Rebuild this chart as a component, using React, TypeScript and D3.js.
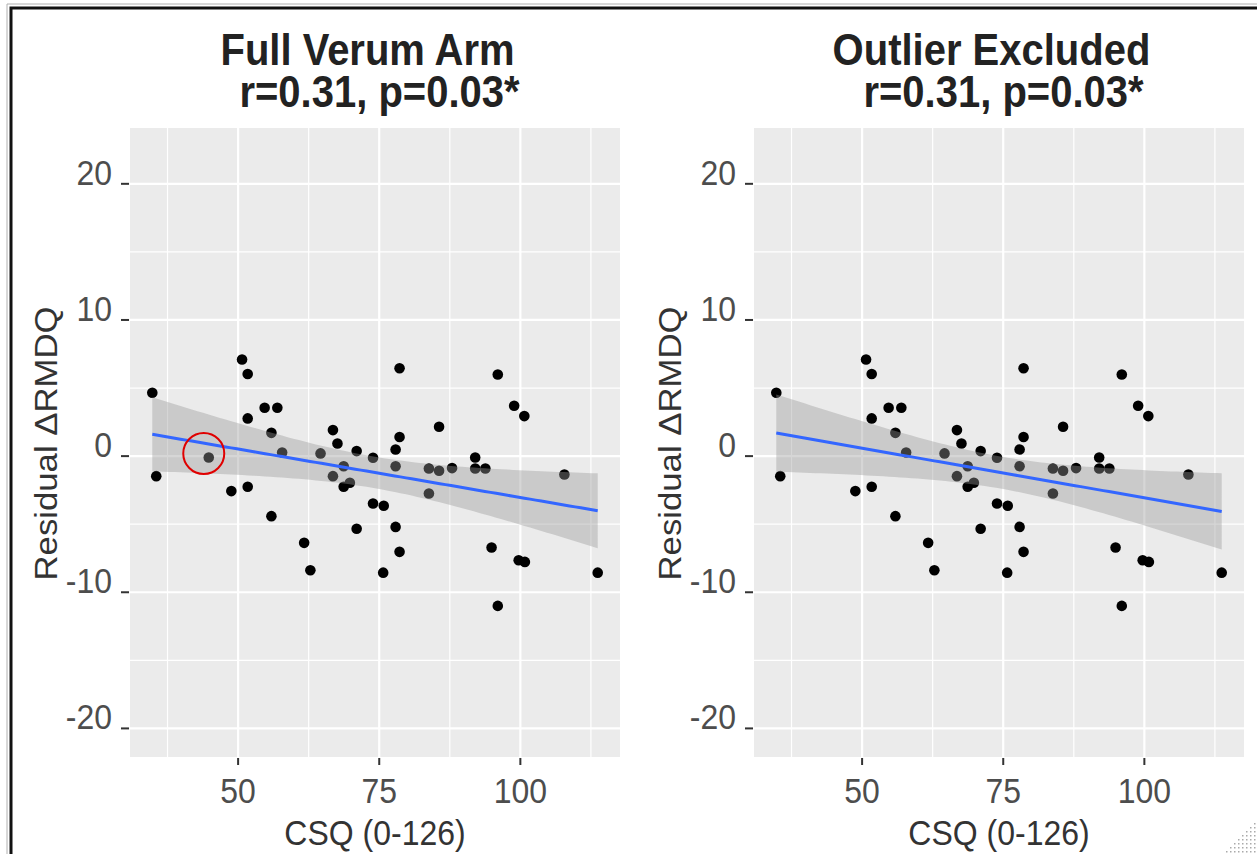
import * as d3 from "d3";
import { useRef, useEffect } from "react";

// CSQ score (x) and residual change in RMDQ (y) -- outlier excluded
const csq = [
  34.8, 35.5, 50.7, 51.7, 54.7, 56.95, 51.7, 55.9, 57.8, 48.8, 51.7, 55.9, 61.7,
  62.8, 64.6, 66.8, 67.6, 71.0, 73.9, 68.7, 66.8, 68.7, 69.8, 73.9, 71.0, 75.7,
  78.6, 78.6, 77.9, 77.9, 75.8, 77.9, 78.6, 85.6, 83.8, 85.6, 87.9, 83.8, 92.0,
  92.0, 93.8, 96.0, 98.9, 100.7, 107.8, 94.9, 99.7, 100.8, 96.0, 113.7,
];
const residual = [
  4.65, -1.47, 7.1, 6.03, 3.55, 3.55, 2.77, 1.71, 0.27, -2.57, -2.25, -4.41,
  -6.37, -8.38, 0.2, 1.91, 0.93, 0.37, -0.12, -0.74, -1.47, -2.25, -1.96, -3.48,
  -5.34, -8.56, 6.45, 1.4, 0.49, -0.74, -3.65, -5.2, -7.03, 2.16, -0.91, -1.08,
  -0.88, -2.75, -0.1, -0.91, -0.91, 6.0, 3.7, 2.94, -1.35, -6.71, -7.65, -7.77,
  -11.0, -8.56,
];
// the circled point, only in the full arm
const outlierCsq = 44.8;
const outlierResidual = -0.1;

const xTicks = [50, 75, 100];
const xMinor = [37.5, 62.5, 87.5, 112.5];
const yTicks = [-20, -10, 0, 10, 20];
const yMinor = [-15, -5, 5, 15];
const titles = ["Full Verum Arm", "Outlier Excluded"];
const subtitle = "r=0.31, p=0.03*";

const W = 1257;
const H = 854;
const SY = 1.12; // screenshot is a bit stretched vertically
const FONT = "'Liberation Sans', Arial, sans-serif";
const T_CRIT = 2.01; // 95% t quantile, df ~ 48

// ordinary least squares + confidence band, like geom_smooth(method = "lm")
const fitLm = (xs, ys) => {
  const n = xs.length;
  const mx = d3.mean(xs);
  const my = d3.mean(ys);
  const sxx = d3.sum(xs, (x) => (x - mx) ** 2);
  const sxy = d3.sum(xs, (x, i) => (x - mx) * (ys[i] - my));
  const b = sxy / sxx;
  const a = my - b * mx;
  const rss = d3.sum(xs, (x, i) => (ys[i] - (a + b * x)) ** 2);
  const s = Math.sqrt(rss / (n - 2));
  const [lo, hi] = d3.extent(xs);
  return d3.range(80).map((k) => {
    const x = lo + ((hi - lo) * k) / 79;
    const fit = a + b * x;
    const se = s * Math.sqrt(1 / n + (x - mx) ** 2 / sxx);
    return { x, fit, lower: fit - T_CRIT * se, upper: fit + T_CRIT * se };
  });
};

const App = () => {
  const svgRef = useRef(null);

  useEffect(() => {
    const svg = d3.select(svgRef.current);
    svg.selectAll("*").remove();

    svg.append("rect").attr("width", W).attr("height", H).attr("fill", "#fff");

    const addText = (g, x, y, str, o) => {
      g.append("text")
        .attr("transform", `translate(${x},${y}) scale(1,${SY})${o.rotate ? " rotate(-90)" : ""}`)
        .attr("text-anchor", o.anchor || "middle")
        .attr("font-family", FONT)
        .attr("font-size", o.size)
        .attr("font-weight", o.weight || "normal")
        .attr("fill", o.fill)
        .text(str);
    };

    const top = 128;
    const bottom = 757;
    const yScale = d3.scaleLinear().domain([-22.1, 24.1]).range([bottom, top]);

    const drawPanel = (left, right, title, xs, ys, outlier) => {
      const g = svg.append("g");
      const xScale = d3.scaleLinear().domain([30.85, 117.65]).range([left, right]);
      const cx = (left + right) / 2;

      // panel background and grid
      g.append("rect")
        .attr("x", left)
        .attr("y", top)
        .attr("width", right - left)
        .attr("height", bottom - top)
        .attr("fill", "#ebebeb");
      xMinor.forEach((v) =>
        g.append("line").attr("x1", xScale(v)).attr("x2", xScale(v)).attr("y1", top).attr("y2", bottom)
          .attr("stroke", "#fff").attr("stroke-width", 1.2));
      yMinor.forEach((v) =>
        g.append("line").attr("x1", left).attr("x2", right).attr("y1", yScale(v)).attr("y2", yScale(v))
          .attr("stroke", "#fff").attr("stroke-width", 1.2));
      xTicks.forEach((v) =>
        g.append("line").attr("x1", xScale(v)).attr("x2", xScale(v)).attr("y1", top).attr("y2", bottom)
          .attr("stroke", "#fff").attr("stroke-width", 2.2));
      yTicks.forEach((v) =>
        g.append("line").attr("x1", left).attr("x2", right).attr("y1", yScale(v)).attr("y2", yScale(v))
          .attr("stroke", "#fff").attr("stroke-width", 2.2));

      // axes: ticks + labels
      xTicks.forEach((v) => {
        g.append("line").attr("x1", xScale(v)).attr("x2", xScale(v)).attr("y1", bottom + 1).attr("y2", bottom + 8)
          .attr("stroke", "#333").attr("stroke-width", 2);
        addText(g, xScale(v), 803, String(v), { size: 32, fill: "#4d4d4d" });
      });
      yTicks.forEach((v) => {
        g.append("line").attr("x1", left - 9).attr("x2", left - 1).attr("y1", yScale(v)).attr("y2", yScale(v))
          .attr("stroke", "#333").attr("stroke-width", 2);
        addText(g, left - 18, yScale(v) + 1, String(v), { size: 32, fill: "#4d4d4d", anchor: "end" });
      });

      addText(g, cx, 845, "CSQ (0-126)", { size: 32, fill: "#333" });
      addText(g, left - 73, (top + bottom) / 2 + 1, "Residual \u0394RMDQ", { size: 31, fill: "#333", rotate: true });

      // two-line title as one text element
      const t = g.append("text")
        .attr("transform", `translate(${cx},65) scale(1,${SY})`)
        .attr("text-anchor", "middle")
        .attr("font-family", FONT)
        .attr("font-size", 40)
        .attr("font-weight", "bold")
        .attr("fill", "#222");
      t.append("tspan").attr("x", -7.5).attr("y", 0).text(title);
      t.append("tspan").attr("x", 4.5).attr("y", 42 / SY).text(subtitle);

      // points
      g.selectAll(".pt")
        .data(xs.map((x, i) => [x, ys[i]]))
        .enter()
        .append("circle")
        .attr("cx", (d) => xScale(d[0]))
        .attr("cy", (d) => yScale(d[1]))
        .attr("r", 5.3)
        .attr("fill", "#000");

      // regression band + line drawn over the points
      const fit = fitLm(xs, ys);
      g.append("path")
        .datum(fit)
        .attr("fill", "#999")
        .attr("fill-opacity", 0.4)
        .attr("d", d3.area().x((d) => xScale(d.x)).y0((d) => yScale(d.lower)).y1((d) => yScale(d.upper)));
      g.append("path")
        .datum(fit)
        .attr("fill", "none")
        .attr("stroke", "#3366ff")
        .attr("stroke-width", 3)
        .attr("d", d3.line().x((d) => xScale(d.x)).y((d) => yScale(d.fit)));

      if (outlier) {
        g.append("circle")
          .attr("cx", xScale(outlierCsq) - 5)
          .attr("cy", yScale(outlierResidual) - 4)
          .attr("r", 20.5)
          .attr("fill", "none")
          .attr("stroke", "#e00000")
          .attr("stroke-width", 2);
      }
    };

    drawPanel(130, 620, titles[0], [...csq, outlierCsq], [...residual, outlierResidual], true);
    drawPanel(754, 1244, titles[1], csq, residual, false);

    // screenshot frame
    svg.append("path").attr("d", `M7,${H} V4 H${W}`).attr("fill", "none").attr("stroke", "#b0b0b0").attr("stroke-width", 1);
    svg.append("path").attr("d", `M11,${H} V8 H${W}`).attr("fill", "none").attr("stroke", "#111").attr("stroke-width", 3);

    // resize grip dots
    d3.range(8).forEach((r) =>
      d3.range(r + 1).forEach((c) =>
        svg.append("rect")
          .attr("x", W - 3 - c * 4)
          .attr("y", H - 3 - (r - c) * 4)
          .attr("width", 1.5)
          .attr("height", 1.5)
          .attr("fill", "#aaa")));
  }, []);

  return (
    <svg
      ref={svgRef}
      width={W}
      height={H}
      style={{ position: "absolute", left: 0, top: 0 }}
    />
  );
};

export default App;
